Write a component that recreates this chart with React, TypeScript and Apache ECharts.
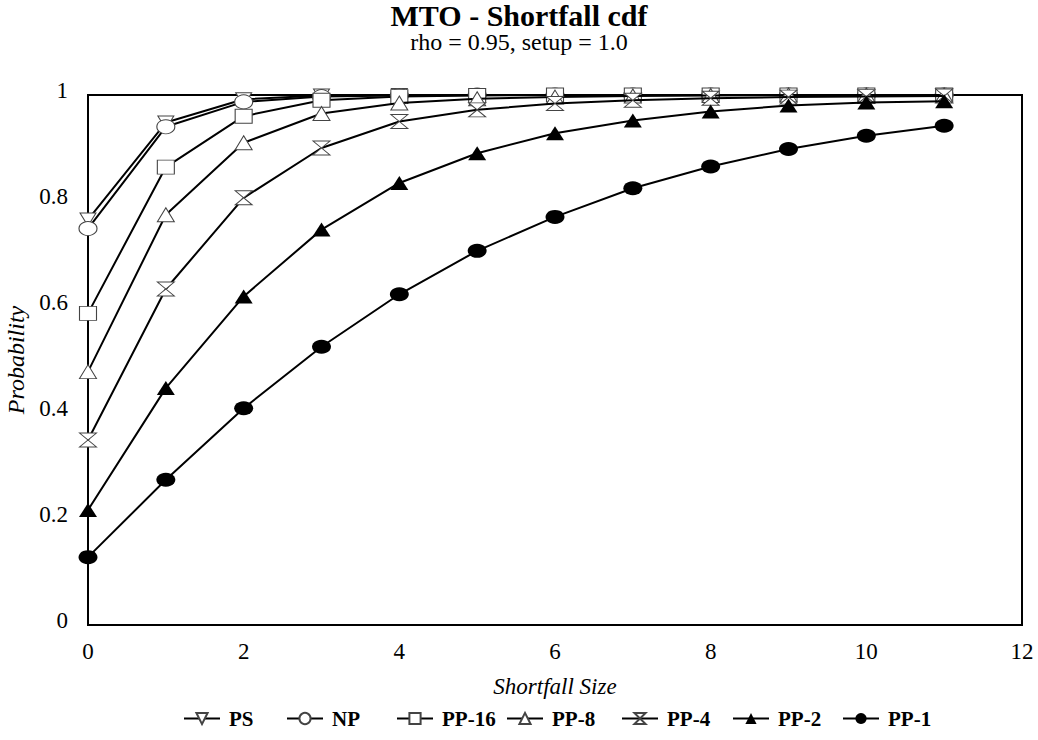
import React, { useEffect, useRef } from "react";
import * as echarts from "echarts";

const shortfall = [0, 1, 2, 3, 4, 5, 6, 7, 8, 9, 10, 11];
const ps = [0.765, 0.948, 0.992, 0.999, 1, 1, 1, 1, 1, 1, 1, 1];
const np = [0.748, 0.94, 0.987, 0.997, 0.999, 1, 1, 1, 1, 1, 1, 1];
const pp16 = [0.588, 0.864, 0.96, 0.99, 0.997, 0.999, 1, 1, 1, 1, 1, 1];
const pp8 = [0.478, 0.774, 0.91, 0.965, 0.985, 0.993, 0.996, 0.998, 0.999, 1, 1, 1];
const pp4 = [0.349, 0.634, 0.806, 0.9, 0.95, 0.972, 0.984, 0.99, 0.994, 0.996, 0.997, 0.998];
const pp2 = [0.217, 0.447, 0.62, 0.746, 0.834, 0.89, 0.928, 0.952, 0.969, 0.98, 0.986, 0.988];
const pp1 = [0.128, 0.274, 0.409, 0.525, 0.624, 0.706, 0.77, 0.824, 0.865, 0.898, 0.923, 0.942];

const seriesNames = ["PS", "NP", "PP-16", "PP-8", "PP-4", "PP-2", "PP-1"];
const seriesValues = [ps, np, pp16, pp8, pp4, pp2, pp1];

// layout: left edge of each legend slot (px)
const legendLefts = [178, 281, 391, 501, 616, 727, 837];

const FONT = "'Liberation Serif', 'Times New Roman', serif";

const symbolDefs: { symbol: string; size: number[]; filled: boolean }[] = [
  { symbol: "path://M0,0 L10,0 L5,9 Z", size: [16, 13], filled: false },
  { symbol: "circle", size: [18, 14], filled: false },
  { symbol: "rect", size: [17, 14], filled: false },
  { symbol: "triangle", size: [17, 14], filled: false },
  { symbol: "path://M0,0 L10,0 L0,10 L10,10 Z", size: [17, 14], filled: false },
  { symbol: "triangle", size: [18, 14], filled: true },
  { symbol: "circle", size: [19, 14], filled: true },
];

export default function App() {
  const ref = useRef<HTMLDivElement>(null);
  useEffect(() => {
    if (!ref.current) return;
    document.body.style.margin = "0";
    const chart = echarts.init(ref.current, null, { renderer: "svg" });
    const series = seriesNames.map((name, i) => ({
      name,
      type: "line",
      data: shortfall.map((x, j) => [x, seriesValues[i][j]]),
      symbol: symbolDefs[i].symbol,
      symbolSize: symbolDefs[i].size,
      showAllSymbol: true,
      lineStyle: { color: "#000", width: 2 },
      itemStyle: {
        color: symbolDefs[i].filled ? "#000" : "#fff",
        borderColor: symbolDefs[i].filled ? "#000" : "#444",
        borderWidth: symbolDefs[i].filled ? 0 : 1,
      },
      emphasis: { disabled: true },
      z: 2 + i,
    }));
    const legends = seriesNames.map((name, i) => ({
      data: [name],
      bottom: 6,
      left: legendLefts[i],
      itemWidth: 36,
      itemHeight: 14,
      selectedMode: false,
      textStyle: {
        fontFamily: FONT,
        fontSize: 21,
        fontWeight: "bold",
        color: "#000",
        padding: [0, 0, 0, 4],
      },
    }));
    chart.setOption({
      animation: false,
      backgroundColor: "#fff",
      textStyle: { fontFamily: FONT, color: "#000" },
      title: {
        text: "MTO - Shortfall cdf",
        subtext: "rho = 0.95, setup = 1.0",
        left: 519,
        textAlign: "center",
        top: 0,
        padding: 0,
        itemGap: 0,
        textStyle: { fontFamily: FONT, fontSize: 30, lineHeight: 30, fontWeight: "bold", color: "#000" },
        subtextStyle: { fontFamily: FONT, fontSize: 24, lineHeight: 24, color: "#000" },
      },
      legend: legends,
      grid: {
        left: 88,
        right: 16,
        top: 95,
        bottom: 115,
        show: true,
        borderColor: "#000",
        borderWidth: 2,
        backgroundColor: "transparent",
        containLabel: false,
        outerBoundsMode: "none",
      },
      xAxis: {
        type: "value",
        min: 0,
        max: 12,
        interval: 2,
        name: "Shortfall Size",
        nameLocation: "middle",
        nameGap: 50,
        nameTextStyle: { fontFamily: FONT, fontSize: 23, fontStyle: "italic", color: "#000" },
        axisLine: { show: true, lineStyle: { color: "#000", width: 2 } },
        axisTick: { show: false },
        splitLine: { show: false },
        axisLabel: { fontFamily: FONT, fontSize: 23, color: "#000", margin: 15 },
      },
      yAxis: {
        type: "value",
        min: 0,
        max: 1,
        interval: 0.2,
        name: "Probability",
        nameLocation: "middle",
        nameGap: 52,
        nameTextStyle: { fontFamily: FONT, fontSize: 24, fontStyle: "italic", color: "#000" },
        axisLine: { show: true, lineStyle: { color: "#000", width: 2 } },
        axisTick: { show: false },
        splitLine: { show: false },
        axisLabel: {
          fontFamily: FONT,
          fontSize: 23,
          color: "#000",
          margin: 20,
          verticalAlign: "bottom",
          lineHeight: 10,
        },
      },
      series,
    });
    return () => chart.dispose();
  }, []);
  return <div ref={ref} style={{ width: 1038, height: 740 }} />;
}
